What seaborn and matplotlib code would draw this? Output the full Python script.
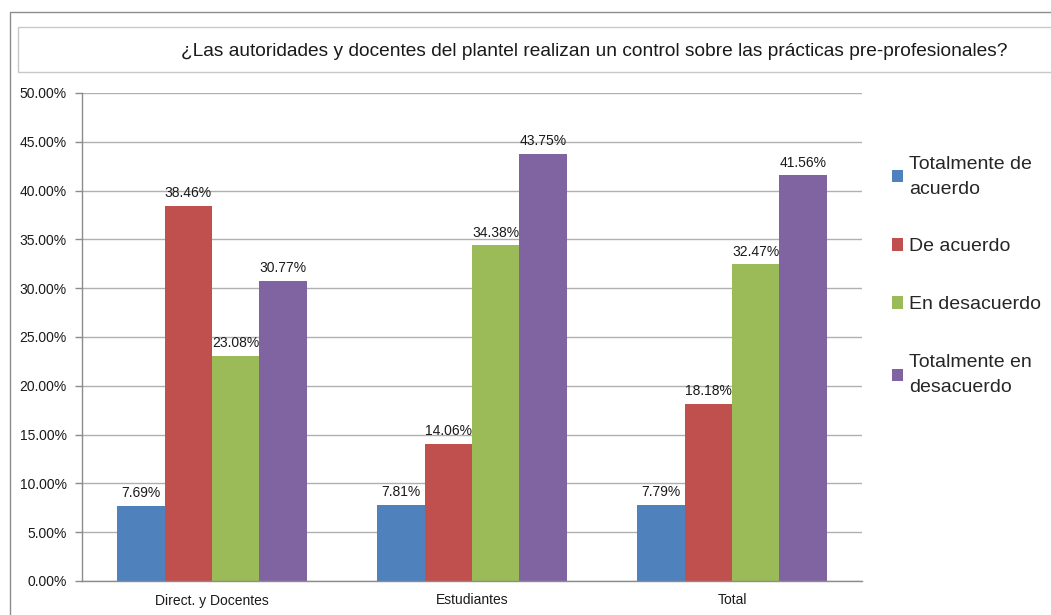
import pandas as pd
import matplotlib.pyplot as plt
import seaborn as sns
from matplotlib.patches import Rectangle
from matplotlib.ticker import FixedLocator, FuncFormatter

TITLE = "¿Las autoridades y docentes del plantel realizan un control sobre las prácticas pre-profesionales?"

GROUPS = ["Direct. y Docentes", "Estudiantes", "Total"]
ANSWERS = ["Totalmente de\nacuerdo", "De acuerdo", "En desacuerdo", "Totalmente en\ndesacuerdo"]

TOTALMENTE_DE_ACUERDO = [7.69, 7.81, 7.79]
DE_ACUERDO = [38.46, 14.06, 18.18]
EN_DESACUERDO = [23.08, 34.38, 32.47]
TOTALMENTE_EN_DESACUERDO = [30.77, 43.75, 41.56]

COLORS = ["#4F81BD", "#C0504D", "#9BBB59", "#8064A2"]

series = [TOTALMENTE_DE_ACUERDO, DE_ACUERDO, EN_DESACUERDO, TOTALMENTE_EN_DESACUERDO]
rows = []
for answer, values in zip(ANSWERS, series):
    for group, v in zip(GROUPS, values):
        rows.append({"Grupo": group, "Respuesta": answer, "Porcentaje": v})
df = pd.DataFrame(rows)

sns.set_theme(style="white")
plt.rcParams["font.family"] = ["Liberation Sans", "DejaVu Sans"]

fig = plt.figure(figsize=(10.51, 6.15), dpi=100)
W, H = 1051, 615

# outer chart frame and title box
fig.patches.append(Rectangle((10 / W, -0.1), 1.2, 1 - 12 / H + 0.1, transform=fig.transFigure,
                             fill=False, edgecolor="#8c8c8c", linewidth=1.0))
fig.patches.append(Rectangle((18 / W, 1 - 72 / H), 1.2, 45 / H, transform=fig.transFigure,
                             fill=False, edgecolor="#c8c8c8", linewidth=1.0))
fig.text(594 / W, 1 - 52 / H, TITLE, ha="center", va="center", fontsize=13.8, color="#1a1a1a")

ax = fig.add_axes([82 / W, 1 - 581 / H, (862 - 82) / W, (581 - 93) / H])
sns.barplot(data=df, x="Grupo", y="Porcentaje", hue="Respuesta", order=GROUPS,
            hue_order=ANSWERS, palette=COLORS, width=0.73, saturation=1,
            edgecolor="none", ax=ax)

for cont in ax.containers:
    ax.bar_label(cont, labels=[f"{v:.2f}%" for v in cont.datavalues], padding=4,
                 fontsize=10, color="#1a1a1a")

ax.set_ylim(0, 50)
ax.set_xlim(-0.5, 2.5)
ax.set_yticks([i * 5 for i in range(11)])
ax.yaxis.set_major_formatter(FuncFormatter(lambda v, p: f"{v:.2f}%"))
ax.grid(axis="y", color="#b0b0b0", linewidth=1.0)
ax.set_axisbelow(True)
ax.set_xlabel("")
ax.set_ylabel("")

ax.xaxis.set_minor_locator(FixedLocator([-0.5, 0.5, 1.5, 2.5]))
ax.tick_params(axis="x", which="major", length=0, labelsize=10, pad=9, colors="#1a1a1a")
ax.tick_params(axis="x", which="minor", length=5, width=1, color="#8c8c8c", direction="out")
ax.tick_params(axis="y", length=5, width=1, color="#8c8c8c", direction="out",
               labelsize=10, labelcolor="#1a1a1a", left=True, pad=6)

for side in ["top", "right"]:
    ax.spines[side].set_visible(False)
for side in ["left", "bottom"]:
    ax.spines[side].set_color("#8c8c8c")
    ax.spines[side].set_linewidth(1.0)

handles, labels = ax.get_legend_handles_labels()
leg = ax.legend(handles, labels, loc="upper left", bbox_to_anchor=(884 / W, 1 - 148 / H),
                bbox_transform=fig.transFigure, frameon=False, fontsize=14,
                handlelength=0.6, handleheight=0.6, handletextpad=0.3, labelspacing=2.1,
                borderaxespad=0)
for t in leg.get_texts():
    t.set_linespacing(1.6)

fig.savefig("out.png", dpi=100)
